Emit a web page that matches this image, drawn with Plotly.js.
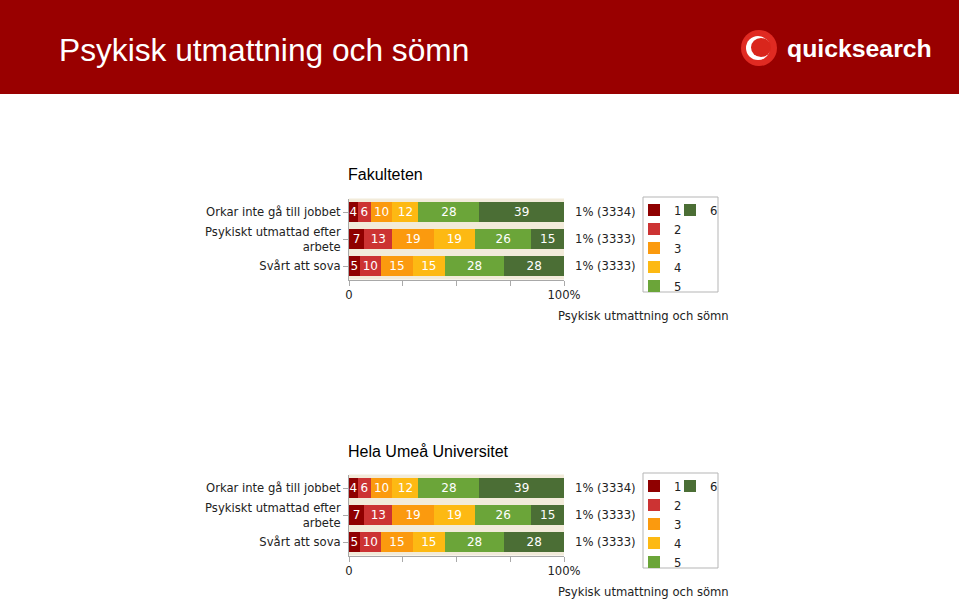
<!DOCTYPE html>
<html>
<head>
<meta charset="utf-8">
<script src="https://cdn.plot.ly/plotly-3.0.1.min.js"></script>
<style>html,body{margin:0;padding:0;background:#fff;}#chart{width:959px;height:599px;}</style>
</head>
<body>
<div id="chart"></div>
<script>
// ---- data ----
const pageTitle = "Psykisk utmattning och sömn";
const chartTitles = ["Fakulteten", "Hela Umeå Universitet"];
const categories = ["Orkar inte gå till jobbet", "Psykiskt utmattad efter<br>arbete", "Svårt att sova"];
const levels = ["1", "2", "3", "4", "5", "6"];
const levelColors = ["#8f0000", "#cc3333", "#fb9a0e", "#fdb913", "#6ba539", "#4b6e35"];
const rightLabels = ["1% (3334)", "1% (3333)", "1% (3333)"];
const axisNote = "Psykisk utmattning och sömn";
const xTickVals = [0, 25, 50, 75, 100];
const xTickText = ["0", "", "", "", "100%"];

// values per level (1..6), one entry per category
const fak1 = [4, 7, 5];
const fak2 = [6, 13, 10];
const fak3 = [10, 19, 15];
const fak4 = [12, 19, 15];
const fak5 = [28, 26, 28];
const fak6 = [39, 15, 28];

const umu1 = [4, 7, 5];
const umu2 = [6, 13, 10];
const umu3 = [10, 19, 15];
const umu4 = [12, 19, 15];
const umu5 = [28, 26, 28];
const umu6 = [39, 15, 28];

const fakSeries = [fak1, fak2, fak3, fak4, fak5, fak6];
const umuSeries = [umu1, umu2, umu3, umu4, umu5, umu6];

// ---- build ----
const H = 599, W = 959;
const px = v => v / W;
const py = v => 1 - v / H;
const barFont = {family: "DejaVu Sans, Verdana, sans-serif", size: 12, color: "#ffffff"};
const labFont = {family: "DejaVu Sans, Verdana, sans-serif", size: 11.6, color: "#222222"};

const traces = [];
function addChart(series, xa, ya, legA, legB) {
  series.forEach((vals, i) => {
    traces.push({
      type: "bar", orientation: "h",
      x: vals, y: categories, xaxis: xa, yaxis: ya,
      name: levels[i],
      marker: {color: levelColors[i], line: {width: 0}},
      text: vals.map(String), textposition: "inside", insidetextanchor: "middle",
      textangle: 0, constraintext: "none", textfont: barFont,
      hoverinfo: "skip",
      legend: i < 5 ? legA : legB,
      showlegend: true
    });
  });
}
addChart(fakSeries, "x", "y", "legend", "legend2");
addChart(umuSeries, "x2", "y2", "legend3", "legend4");

const offsets = [0, 276];
const xDom = [px(349), px(564)];

function xAxis(dom, anchor) {
  return {domain: dom, anchor: anchor, range: [0, 100], fixedrange: true,
    tickvals: xTickVals, ticktext: xTickText, ticks: "outside", ticklen: 5,
    tickcolor: "#aaaaaa", showgrid: false, zeroline: false,
    showline: true, linecolor: "#a8a8a8", linewidth: 1, tickfont: labFont};
}
function yAxis(dom, anchor) {
  return {domain: dom, anchor: anchor, type: "category", range: [2.5, -0.5],
    ticks: "outside", ticklen: 5, tickcolor: "#aaaaaa", showgrid: false,
    showline: true, linecolor: "#a8a8a8", linewidth: 1, tickfont: labFont, fixedrange: true};
}

const annotations = [];
const shapes = [];
// header band
shapes.push({type: "rect", xref: "paper", yref: "paper", x0: 0, x1: 1, y0: py(94), y1: 1,
  fillcolor: "#990000", line: {width: 0}, layer: "below"});
// logo icon
shapes.push({type: "circle", xref: "paper", yref: "paper", x0: px(741), x1: px(777), y0: py(66), y1: py(30),
  fillcolor: "#e02a22", line: {width: 0}});
shapes.push({type: "circle", xref: "paper", yref: "paper", x0: px(746), x1: px(770), y0: py(60), y1: py(36),
  fillcolor: "#ffffff", line: {width: 0}});
shapes.push({type: "circle", xref: "paper", yref: "paper", x0: px(751), x1: px(771), y0: py(57), y1: py(38),
  fillcolor: "#d9261c", line: {width: 0}});
annotations.push({text: pageTitle, xref: "paper", yref: "paper", x: px(57), y: py(50),
  xanchor: "left", yanchor: "middle", showarrow: false,
  font: {family: "Liberation Sans, Arial, sans-serif", size: 31.7, color: "#ffffff"}});
annotations.push({text: "quicksearch", xref: "paper", yref: "paper", x: px(785), y: py(48),
  xanchor: "left", yanchor: "middle", showarrow: false,
  font: {family: "Liberation Sans Narrow, Liberation Sans, Arial, sans-serif", size: 24.8, color: "#ffffff", weight: "bold"}});

const layout = {
  width: W, height: H, autosize: false,
  margin: {l: 0, r: 0, t: 0, b: 0},
  paper_bgcolor: "#ffffff", plot_bgcolor: "#f2ebda",
  barmode: "stack", barnorm: "percent", bargap: 0.26,
  showlegend: true,
  annotations: annotations, shapes: shapes
};

offsets.forEach((o, k) => {
  const xs = k === 0 ? "" : "2";
  const yDom = [py(279.5 + o), py(198.5 + o)];
  layout["xaxis" + xs] = xAxis(xDom, "y" + xs);
  layout["yaxis" + xs] = yAxis(yDom, "x" + xs);
  annotations.push({text: chartTitles[k], xref: "paper", yref: "paper", x: px(346), y: py(175 + o),
    xanchor: "left", yanchor: "middle", showarrow: false,
    font: {family: "Liberation Sans, Arial, sans-serif", size: 16, color: "#000000"}});
  rightLabels.forEach((t, i) => {
    annotations.push({text: t, xref: "paper", yref: "y" + xs, x: px(573), y: categories[i],
      xanchor: "left", yanchor: "middle", showarrow: false, font: labFont});
  });
  annotations.push({text: axisNote, xref: "paper", yref: "paper", x: px(556), y: py(316 + o),
    xanchor: "left", yanchor: "middle", showarrow: false, font: labFont});
  // legend frame
  shapes.push({type: "rect", xref: "paper", yref: "paper", x0: px(643), x1: px(718),
    y0: py(292 + o), y1: py(197 + o), fillcolor: "rgba(0,0,0,0)",
    line: {color: "#b5b5b5", width: 1}});
  const la = k === 0 ? "legend" : "legend3";
  const lb = k === 0 ? "legend2" : "legend4";
  const legBase = {bgcolor: "rgba(0,0,0,0)", borderwidth: 0, font: labFont,
    orientation: "v", xanchor: "left", yanchor: "top", yref: "paper", xref: "paper",
    traceorder: "normal", itemclick: false, itemdoubleclick: false, tracegroupgap: 0};
  layout[la] = Object.assign({}, legBase, {x: px(634), y: py(195.5 + o)});
  layout[lb] = Object.assign({}, legBase, {x: px(670), y: py(195.5 + o)});
});

Plotly.newPlot("chart", traces, layout, {displayModeBar: false, staticPlot: true});
</script>
</body>
</html>
